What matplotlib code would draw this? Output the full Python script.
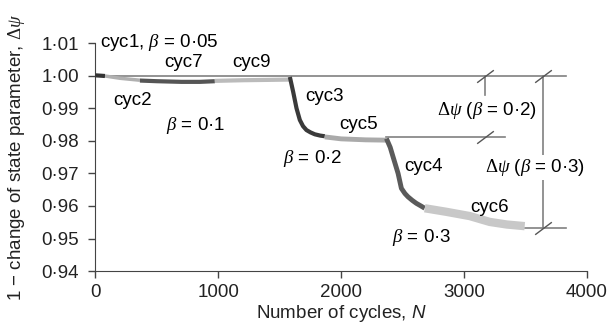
import numpy as np
import matplotlib.pyplot as plt
from matplotlib.path import Path

plt.rcParams['font.family'] = ['Liberation Sans', 'DejaVu Sans']
plt.rcParams['mathtext.fontset'] = 'custom'
plt.rcParams['mathtext.rm'] = 'Liberation Serif'
plt.rcParams['mathtext.it'] = 'Liberation Serif:italic'
plt.rcParams['mathtext.sf'] = 'Liberation Sans:italic'

# --- data ---
cyc1_n = [0, 40, 78]
cyc1_v = [1.0001, 1.0000, 0.9999]
cyc2_n = [78, 200, 362]
cyc2_v = [0.9999, 0.9992, 0.9986]
cyc7_n = [362, 500, 700, 850, 972]
cyc7_v = [0.9985, 0.9983, 0.9981, 0.9981, 0.9983]
cyc9_n = [972, 1200, 1400, 1583]
cyc9_v = [0.9984, 0.9986, 0.9987, 0.9988]
cyc3_n = [1583, 1610, 1637, 1664, 1690, 1718, 1750, 1786, 1830, 1867]
cyc3_v = [0.9996, 0.9950, 0.9900, 0.9864, 0.9845, 0.9833, 0.9826, 0.9820, 0.9816, 0.9814]
cyc5_n = [1867, 2000, 2200, 2369]
cyc5_v = [0.9812, 0.9806, 0.9803, 0.9802]
cyc4_n = [2369, 2400, 2423, 2464, 2491, 2520, 2545, 2580, 2613, 2650, 2681]
cyc4_v = [0.9807, 0.9780, 0.9751, 0.9700, 0.9654, 0.9638, 0.9628, 0.9617, 0.9608, 0.9600, 0.9593]
cyc6_n = [2681, 2857, 3047, 3210, 3350, 3495]
cyc6_v = [0.9593, 0.9582, 0.9569, 0.9551, 0.9543, 0.9538]

# reference levels
level_02 = 0.9812
level_03 = 0.9533
ref_end = 3834
mark_02 = 3175
mark_03 = 3644

yticks = [0.94, 0.95, 0.96, 0.97, 0.98, 0.99, 1.00, 1.01]
ytick_labels = ['0·94', '0·95', '0·96', '0·97', '0·98', '0·99', '1·00', '1·01']
xticks = [0, 1000, 2000, 3000, 4000]

fig = plt.figure(figsize=(6.08, 3.29), dpi=100)
ax = fig.add_axes([0.157, 0.176, 0.808, 0.693])

ref_col = '#808080'
# horizontal reference lines
ax.plot([0, ref_end], [1.0, 1.0], color=ref_col, lw=1.2, zorder=1)
ax.plot([cyc5_n[-1], 3332], [level_02, level_02], color=ref_col, lw=1.2, zorder=1)
ax.plot([cyc6_n[-1], ref_end], [level_03, level_03], color=ref_col, lw=1.2, zorder=1)

# vertical measuring lines
ax.plot([mark_02, mark_02], [1.0, 0.994], color=ref_col, lw=1.2, zorder=1)
ax.plot([mark_03, mark_03], [1.0, level_03], color=ref_col, lw=1.2, zorder=1)

# slash marks
slash = Path([(-1, -0.75), (1, 0.75)], [Path.MOVETO, Path.LINETO])
ax.plot([mark_02, mark_03, mark_02, mark_03], [1.0, 1.0, level_02, level_03],
        ls='none', marker=slash, markersize=12, mec='#555555', mew=1.0, zorder=2)

# cycle curves
ax.plot(cyc1_n, cyc1_v, color='#333333', lw=3, solid_capstyle='butt', zorder=3)
ax.plot(cyc2_n, cyc2_v, color='#b0b0b0', lw=2.5, solid_capstyle='butt', zorder=3)
ax.plot(cyc7_n, cyc7_v, color='#555555', lw=3, solid_capstyle='butt', zorder=3)
ax.plot(cyc9_n, cyc9_v, color='#bbbbbb', lw=3, solid_capstyle='butt', zorder=3)
ax.plot(cyc3_n, cyc3_v, color='#3a3a3a', lw=3, solid_capstyle='butt', zorder=3)
ax.plot(cyc5_n, cyc5_v, color='#aaaaaa', lw=3.5, solid_capstyle='butt', zorder=3)
ax.plot(cyc4_n, cyc4_v, color='#5a5a5a', lw=3.5, solid_capstyle='butt', zorder=3)
ax.plot(cyc6_n, cyc6_v, color='#c8c8c8', lw=6, solid_capstyle='butt', zorder=3)

# labels
fs = 13.5
ax.text(40, 1.0102, r'cyc1, $\beta$ = 0·05', fontsize=fs, ha='left', va='center')
ax.text(720, 1.0041, 'cyc7', fontsize=fs, ha='center', va='center')
ax.text(1267, 1.0041, 'cyc9', fontsize=fs, ha='center', va='center')
ax.text(305, 0.9925, 'cyc2', fontsize=fs, ha='center', va='center')
ax.text(818, 0.9848, r'$\beta$ = 0·1', fontsize=fs, ha='center', va='center')
ax.text(1867, 0.9937, 'cyc3', fontsize=fs, ha='center', va='center')
ax.text(2145, 0.9851, 'cyc5', fontsize=fs, ha='center', va='center')
ax.text(1770, 0.9747, r'$\beta$ = 0·2', fontsize=fs, ha='center', va='center')
ax.text(2672, 0.9722, 'cyc4', fontsize=fs, ha='center', va='center')
ax.text(3210, 0.9595, 'cyc6', fontsize=fs, ha='center', va='center')
ax.text(2654, 0.9503, r'$\beta$ = 0·3', fontsize=fs, ha='center', va='center')
ax.text(3190, 0.9894, r'$\Delta\psi$ ($\beta$ = 0·2)', fontsize=fs, ha='center', va='center')
ax.text(3577, 0.9719, r'$\Delta\psi$ ($\beta$ = 0·3)', fontsize=fs, ha='center', va='center',
        bbox=dict(facecolor='white', edgecolor='none', pad=1.5))

ax.set_xlim(0, 4000)
ax.set_ylim(0.94, 1.01)
ax.set_xticks(xticks)
ax.set_yticks(yticks)
ax.set_yticklabels(ytick_labels)
ax.tick_params(axis='both', labelsize=fs, direction='out', length=5, color='#444444',
               width=1, labelcolor='#222222')
ax.tick_params(axis='x', pad=4)
ax.tick_params(axis='y', pad=7)
ax.spines['top'].set_visible(False)
ax.spines['right'].set_visible(False)
ax.spines['left'].set_color('#444444')
ax.spines['bottom'].set_color('#444444')
ax.set_xlabel(r'Number of cycles, $\mathsf{N}$', fontsize=fs, labelpad=2, color='#222222')
ax.set_ylabel('1 − change of state parameter, $\\Delta\\psi$', fontsize=fs, labelpad=10,
              color='#222222')

fig.savefig('out.png', dpi=100)
